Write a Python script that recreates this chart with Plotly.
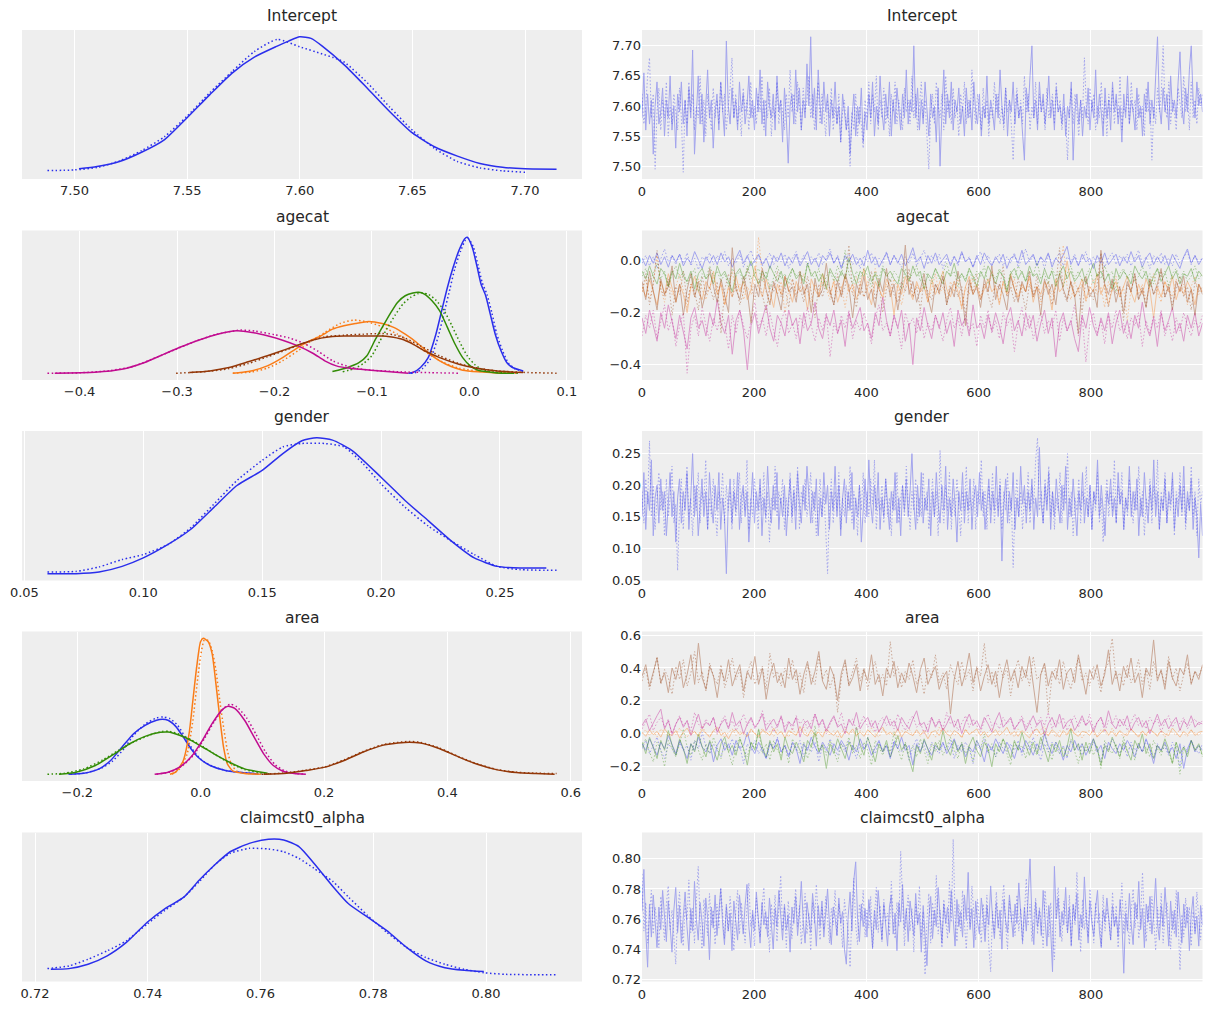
import numpy as np
import plotly.graph_objects as go

# ======================= DATA =======================
TITLES = ["Intercept", "agecat", "gender", "area", "claimcst0_alpha"]

# ---- KDE curves (x, relative density); _S = chain 0 (solid), _D = chain 1 (dotted)
INT_KDE_XS = [7.502, 7.51, 7.52, 7.53, 7.54, 7.55, 7.56, 7.57, 7.58, 7.59, 7.595, 7.60, 7.605, 7.61, 7.62, 7.63, 7.64, 7.65, 7.66, 7.67, 7.68, 7.69, 7.70, 7.714]
INT_KDE_YS = [0.025, 0.042, 0.079, 0.149, 0.241, 0.402, 0.571, 0.732, 0.851, 0.931, 0.968, 1.0, 0.988, 0.931, 0.789, 0.62, 0.447, 0.29, 0.186, 0.119, 0.065, 0.037, 0.025, 0.022]
INT_KDE_XD = [7.488, 7.50, 7.51, 7.52, 7.53, 7.54, 7.55, 7.56, 7.57, 7.58, 7.59, 7.60, 7.61, 7.615, 7.62, 7.63, 7.64, 7.65, 7.66, 7.67, 7.68, 7.69, 7.70]
INT_KDE_YD = [0.012, 0.017, 0.035, 0.084, 0.161, 0.263, 0.414, 0.586, 0.744, 0.893, 0.98, 0.926, 0.873, 0.846, 0.81, 0.66, 0.48, 0.31, 0.174, 0.079, 0.032, 0.01, 0.0]

AGE0_KDE_XS = [-0.0627, -0.058, -0.0502, -0.0423, -0.0344, -0.0285, -0.0226, -0.0167, -0.0108, -0.005, -0.0022, 0.0029, 0.008, 0.0119, 0.0167, 0.0214, 0.0265, 0.0324, 0.0383, 0.0442, 0.0552]
AGE0_KDE_YS = [0.0, 0.005, 0.042, 0.115, 0.287, 0.459, 0.631, 0.779, 0.902, 0.988, 1.0, 0.926, 0.779, 0.656, 0.57, 0.435, 0.287, 0.165, 0.079, 0.042, 0.017]
AGE0_KDE_XD = [-0.06, -0.055, -0.048, -0.04, -0.032, -0.026, -0.02, -0.015, -0.009, -0.004, -0.001, 0.004, 0.009, 0.013, 0.018, 0.023, 0.028, 0.034, 0.04, 0.046, 0.055]
AGE0_KDE_YD = [0.0, 0.005, 0.035, 0.105, 0.27, 0.445, 0.62, 0.77, 0.9, 0.98, 0.99, 0.93, 0.79, 0.67, 0.58, 0.445, 0.29, 0.165, 0.075, 0.035, 0.012]
AGE1_KDE_XS = [-0.2428, -0.227, -0.2074, -0.1917, -0.176, -0.1642, -0.1524, -0.1406, -0.1288, -0.117, -0.1032, -0.0895, -0.0777, -0.0659, -0.0541, -0.0423, -0.0305, -0.0187, -0.0069, 0.0088, 0.0285, 0.0442]
AGE1_KDE_YS = [0.0, 0.012, 0.054, 0.115, 0.189, 0.238, 0.275, 0.324, 0.349, 0.366, 0.381, 0.366, 0.337, 0.287, 0.226, 0.152, 0.091, 0.049, 0.022, 0.01, 0.002, 0.0]
AGE1_KDE_XD = [-0.2428, -0.2231, -0.2074, -0.1917, -0.176, -0.1642, -0.1484, -0.1327, -0.1189, -0.1052, -0.0895, -0.0738, -0.058, -0.0423, -0.0266, -0.0108, 0.0088, 0.0285, 0.0481]
AGE1_KDE_YD = [0.0, 0.01, 0.037, 0.091, 0.165, 0.226, 0.3, 0.366, 0.391, 0.378, 0.342, 0.287, 0.219, 0.145, 0.079, 0.037, 0.015, 0.005, 0.0]
AGE2_KDE_XS = [-0.1406, -0.1249, -0.113, -0.1052, -0.0973, -0.0895, -0.0816, -0.0738, -0.0659, -0.058, -0.0521, -0.0462, -0.0384, -0.0305, -0.0226, -0.0148, -0.0069, 0.0009, 0.0088, 0.0186, 0.0285, 0.0462]
AGE2_KDE_YS = [0.012, 0.042, 0.079, 0.128, 0.238, 0.337, 0.435, 0.521, 0.57, 0.59, 0.595, 0.582, 0.533, 0.459, 0.337, 0.215, 0.115, 0.054, 0.022, 0.01, 0.002, 0.0]
AGE2_KDE_XD = [-0.13, -0.118, -0.108, -0.1, -0.092, -0.084, -0.076, -0.068, -0.06, -0.053, -0.048, -0.042, -0.034, -0.026, -0.018, -0.01, -0.002, 0.006, 0.014, 0.024, 0.034, 0.05]
AGE2_KDE_YD = [0.01, 0.035, 0.075, 0.13, 0.235, 0.335, 0.43, 0.51, 0.56, 0.585, 0.59, 0.58, 0.535, 0.46, 0.35, 0.23, 0.125, 0.06, 0.025, 0.01, 0.003, 0.0]
AGE3_KDE_XS = [-0.4255, -0.3843, -0.3568, -0.3332, -0.3135, -0.2978, -0.2781, -0.2585, -0.2388, -0.2231, -0.2074, -0.1917, -0.176, -0.1602, -0.1484, -0.1366, -0.1209, -0.1013, -0.0816, -0.0627]
AGE3_KDE_YS = [0.0, 0.007, 0.029, 0.079, 0.14, 0.189, 0.243, 0.287, 0.312, 0.30, 0.275, 0.243, 0.201, 0.145, 0.091, 0.054, 0.034, 0.022, 0.01, 0.0]
AGE3_KDE_XD = [-0.433, -0.4, -0.37, -0.345, -0.32, -0.3, -0.28, -0.26, -0.235, -0.22, -0.2, -0.185, -0.17, -0.155, -0.14, -0.12, -0.1, -0.07, -0.04, -0.011]
AGE3_KDE_YD = [0.0, 0.003, 0.018, 0.05, 0.12, 0.18, 0.238, 0.285, 0.317, 0.31, 0.283, 0.26, 0.22, 0.16, 0.09, 0.04, 0.022, 0.01, 0.004, 0.0]
AGE4_KDE_XS = [-0.2872, -0.2664, -0.2467, -0.227, -0.2074, -0.1877, -0.1681, -0.1524, -0.1406, -0.1288, -0.1091, -0.0895, -0.0816, -0.0698, -0.058, -0.0462, -0.0305, -0.0108, 0.0088, 0.0285, 0.0552]
AGE4_KDE_YS = [0.005, 0.017, 0.042, 0.084, 0.128, 0.177, 0.226, 0.258, 0.27, 0.273, 0.273, 0.273, 0.268, 0.251, 0.214, 0.165, 0.115, 0.066, 0.034, 0.017, 0.005]
AGE4_KDE_XD = [-0.301, -0.286, -0.2664, -0.2467, -0.227, -0.2074, -0.1877, -0.1681, -0.1484, -0.1288, -0.1091, -0.0895, -0.0777, -0.0659, -0.0502, -0.0305, -0.0108, 0.0088, 0.0285, 0.06, 0.0894]
AGE4_KDE_YD = [0.0, 0.005, 0.015, 0.034, 0.071, 0.12, 0.172, 0.226, 0.268, 0.28, 0.287, 0.292, 0.283, 0.258, 0.201, 0.128, 0.071, 0.037, 0.017, 0.005, 0.0]

GEN_KDE_XS = [0.0597, 0.0717, 0.0814, 0.0911, 0.10, 0.1104, 0.12, 0.1297, 0.1394, 0.15, 0.1587, 0.1667, 0.1729, 0.1796, 0.1877, 0.20, 0.2102, 0.2199, 0.2296, 0.2392, 0.2489, 0.2585, 0.2695]
GEN_KDE_YS = [0.0, 0.0, 0.012, 0.054, 0.116, 0.215, 0.327, 0.488, 0.649, 0.76, 0.884, 0.978, 1.0, 0.983, 0.908, 0.71, 0.537, 0.389, 0.24, 0.116, 0.054, 0.042, 0.042]
GEN_KDE_XD = [0.0597, 0.0717, 0.0814, 0.0911, 0.10, 0.1104, 0.12, 0.1297, 0.1394, 0.15, 0.1587, 0.1667, 0.1763, 0.1844, 0.1925, 0.20, 0.2102, 0.2199, 0.2296, 0.2392, 0.2489, 0.2585, 0.2738]
GEN_KDE_YD = [0.012, 0.017, 0.05, 0.104, 0.141, 0.215, 0.339, 0.512, 0.686, 0.834, 0.933, 0.958, 0.958, 0.933, 0.809, 0.661, 0.488, 0.35, 0.24, 0.141, 0.054, 0.03, 0.025]

AREA0_KDE_XS = [-0.2143, -0.1894, -0.1646, -0.146, -0.1274, -0.1088, -0.0901, -0.0715, -0.0622, -0.0529, -0.0405, -0.0281, -0.0157, -0.0033, 0.0154, 0.0402, 0.0712, 0.093]
AREA0_KDE_YS = [0.0, 0.007, 0.039, 0.101, 0.2, 0.298, 0.36, 0.397, 0.404, 0.397, 0.352, 0.273, 0.187, 0.121, 0.064, 0.027, 0.01, 0.002]
AREA0_KDE_XD = [-0.2112, -0.1863, -0.1615, -0.1429, -0.1243, -0.1088, -0.0901, -0.0715, -0.0603, -0.0498, -0.0374, -0.025, -0.0126, -0.0002, 0.0185, 0.0433, 0.0774, 0.0991]
AREA0_KDE_YD = [0.0, 0.01, 0.044, 0.096, 0.187, 0.286, 0.368, 0.414, 0.421, 0.409, 0.36, 0.273, 0.18, 0.111, 0.059, 0.025, 0.007, 0.0]
AREA1_KDE_XS = [-0.0498, -0.0405, -0.0281, -0.0188, -0.0126, -0.0064, -0.0002, 0.0042, 0.0123, 0.0185, 0.0247, 0.0309, 0.0371, 0.0433, 0.0526, 0.0712, 0.096]
AREA1_KDE_YS = [0.0, 0.015, 0.101, 0.298, 0.544, 0.791, 0.975, 1.0, 0.975, 0.889, 0.667, 0.42, 0.199, 0.076, 0.022, 0.005, 0.0]
AREA1_KDE_XD = [-0.0467, -0.0343, -0.0219, -0.0126, -0.0064, -0.0002, 0.006, 0.0123, 0.0185, 0.0247, 0.0309, 0.0371, 0.0433, 0.0495, 0.0588, 0.0774, 0.1022]
AREA1_KDE_YD = [0.0, 0.039, 0.15, 0.397, 0.643, 0.865, 0.988, 0.983, 0.914, 0.766, 0.544, 0.347, 0.175, 0.076, 0.022, 0.005, 0.0]
AREA2_KDE_XS = [-0.2298, -0.2019, -0.1708, -0.1398, -0.115, -0.0901, -0.0653, -0.0529, -0.0343, -0.0157, 0.0031, 0.0216, 0.0464, 0.0712, 0.1085]
AREA2_KDE_YS = [0.0, 0.015, 0.064, 0.15, 0.224, 0.278, 0.308, 0.31, 0.286, 0.249, 0.2, 0.15, 0.089, 0.039, 0.007]
AREA2_KDE_XD = [-0.2484, -0.2205, -0.1894, -0.1584, -0.1336, -0.1088, -0.084, -0.0622, -0.0498, -0.0343, -0.0157, 0.0031, 0.0216, 0.0464, 0.0712, 0.1022, 0.1147]
AREA2_KDE_YD = [0.0, 0.007, 0.039, 0.106, 0.175, 0.236, 0.286, 0.315, 0.315, 0.293, 0.254, 0.204, 0.15, 0.084, 0.034, 0.007, 0.002]
AREA3_KDE_XS = [-0.0746, -0.0529, -0.0343, -0.0157, 0.0029, 0.0185, 0.034, 0.0445, 0.0557, 0.0712, 0.0867, 0.1022, 0.1178, 0.1333, 0.1519, 0.1705]
AREA3_KDE_YS = [0.0, 0.015, 0.052, 0.126, 0.249, 0.372, 0.47, 0.5, 0.483, 0.397, 0.273, 0.15, 0.064, 0.022, 0.005, 0.0]
AREA3_KDE_XD = [-0.0715, -0.0498, -0.0312, -0.0126, 0.006, 0.0216, 0.0371, 0.0483, 0.0588, 0.0743, 0.0898, 0.1053, 0.1209, 0.1364, 0.155, 0.1705]
AREA3_KDE_YD = [0.0, 0.017, 0.057, 0.135, 0.261, 0.384, 0.483, 0.515, 0.495, 0.416, 0.293, 0.163, 0.069, 0.025, 0.005, 0.0]
AREA4_KDE_XS = [0.1022, 0.1395, 0.1705, 0.2016, 0.2326, 0.2636, 0.2947, 0.3195, 0.3381, 0.3567, 0.3877, 0.4188, 0.4498, 0.4808, 0.5119, 0.5429, 0.5739]
AREA4_KDE_YS = [0.0, 0.007, 0.027, 0.052, 0.101, 0.163, 0.212, 0.229, 0.236, 0.229, 0.187, 0.126, 0.071, 0.032, 0.012, 0.005, 0.0]
AREA4_KDE_XD = [0.0991, 0.1395, 0.1705, 0.2016, 0.2326, 0.2636, 0.2947, 0.3195, 0.3381, 0.3567, 0.3877, 0.4188, 0.4498, 0.4808, 0.5119, 0.5429, 0.577]
AREA4_KDE_YD = [0.0, 0.01, 0.03, 0.054, 0.106, 0.167, 0.217, 0.234, 0.241, 0.234, 0.192, 0.128, 0.074, 0.034, 0.015, 0.007, 0.005]

CLM_KDE_XS = [0.7228, 0.726, 0.7294, 0.7328, 0.7362, 0.7399, 0.743, 0.7464, 0.7491, 0.7518, 0.7546, 0.758, 0.7614, 0.7641, 0.7668, 0.7695, 0.7729, 0.7756, 0.779, 0.7824, 0.7859, 0.7893, 0.7927, 0.7961, 0.7996]
CLM_KDE_YS = [0.042, 0.047, 0.079, 0.141, 0.24, 0.389, 0.488, 0.574, 0.698, 0.809, 0.908, 0.97, 1.0, 0.995, 0.946, 0.822, 0.649, 0.525, 0.426, 0.327, 0.203, 0.104, 0.054, 0.035, 0.025]
CLM_KDE_XD = [0.7222, 0.726, 0.7294, 0.7328, 0.7362, 0.7399, 0.743, 0.7464, 0.7491, 0.7518, 0.7546, 0.758, 0.7614, 0.7641, 0.7668, 0.7695, 0.7729, 0.7756, 0.779, 0.7824, 0.7859, 0.7893, 0.7927, 0.7961, 0.7996, 0.8035, 0.809, 0.8125]
CLM_KDE_YD = [0.047, 0.067, 0.116, 0.178, 0.252, 0.376, 0.475, 0.574, 0.686, 0.809, 0.896, 0.933, 0.928, 0.908, 0.859, 0.785, 0.686, 0.574, 0.438, 0.314, 0.203, 0.129, 0.079, 0.042, 0.017, 0.005, 0.002, 0.002]

# ---- trace values (draws read coarsely along 0..999); _C0 solid chain, _C1 dotted chain
INT_C0 = [7.58, 7.655, 7.56, 7.62, 7.57, 7.61, 7.52, 7.60, 7.64, 7.57,
          7.59, 7.63, 7.55, 7.61, 7.58, 7.65, 7.56, 7.60, 7.53, 7.62,
          7.59, 7.64, 7.57, 7.61, 7.55, 7.63, 7.58, 7.693, 7.52, 7.60,
          7.65, 7.57, 7.62, 7.54, 7.60, 7.66, 7.58, 7.61, 7.53, 7.59,
          7.62, 7.56, 7.64, 7.59, 7.55, 7.708, 7.60, 7.57, 7.63, 7.58,
          7.61, 7.56, 7.64, 7.59, 7.62, 7.57, 7.60, 7.65, 7.58, 7.61,
          7.56, 7.63, 7.59, 7.66, 7.57, 7.61, 7.55, 7.64, 7.60, 7.58,
          7.62, 7.56, 7.65, 7.59, 7.61, 7.54, 7.63, 7.58, 7.505, 7.60,
          7.62, 7.57, 7.66, 7.59, 7.63, 7.56, 7.61, 7.58, 7.67, 7.60,
          7.715, 7.58, 7.63, 7.56, 7.66, 7.60, 7.57, 7.64, 7.59, 7.62,
          7.55, 7.61, 7.58, 7.64, 7.57, 7.60, 7.54, 7.62, 7.59, 7.56,
          7.60, 7.52, 7.58, 7.62, 7.55, 7.60, 7.57, 7.63, 7.54, 7.59,
          7.56, 7.62, 7.58, 7.64, 7.55, 7.60, 7.57, 7.65, 7.59, 7.56,
          7.62, 7.58, 7.64, 7.55, 7.61, 7.57, 7.63, 7.59, 7.56, 7.62,
          7.58, 7.66, 7.57, 7.61, 7.59, 7.70, 7.58, 7.63, 7.56, 7.61,
          7.57, 7.64, 7.59, 7.55, 7.62, 7.58, 7.60, 7.54, 7.63, 7.50,
          7.59, 7.66, 7.57, 7.62, 7.58, 7.64, 7.56, 7.61, 7.59, 7.63,
          7.57, 7.60, 7.55, 7.63, 7.58, 7.61, 7.56, 7.64, 7.59, 7.57,
          7.62, 7.55, 7.60, 7.58, 7.65, 7.57, 7.61, 7.59, 7.56, 7.62,
          7.58, 7.66, 7.60, 7.57, 7.63, 7.55, 7.61, 7.59, 7.64, 7.57,
          7.62, 7.58, 7.60, 7.56, 7.51, 7.63, 7.59, 7.65, 7.70, 7.58,
          7.61, 7.56, 7.64, 7.59, 7.62, 7.57, 7.60, 7.65, 7.58, 7.61,
          7.56, 7.63, 7.59, 7.60, 7.57, 7.62, 7.55, 7.60, 7.58, 7.64,
          7.51, 7.59, 7.62, 7.57, 7.61, 7.55, 7.60, 7.58, 7.63, 7.56,
          7.61, 7.58, 7.66, 7.57, 7.62, 7.59, 7.55, 7.63, 7.58, 7.61,
          7.56, 7.64, 7.59, 7.62, 7.57, 7.60, 7.54, 7.62, 7.58, 7.65,
          7.57, 7.61, 7.59, 7.56, 7.63, 7.58, 7.60, 7.55, 7.62, 7.59,
          7.64, 7.57, 7.61, 7.58, 7.66, 7.715, 7.60, 7.57, 7.63, 7.59,
          7.62, 7.56, 7.65, 7.59, 7.61, 7.58, 7.64, 7.69, 7.60, 7.57,
          7.63, 7.59, 7.66, 7.70, 7.61, 7.58, 7.64, 7.60, 7.62, 7.59]
INT_C1 = [7.62, 7.57, 7.60, 7.65, 7.68, 7.58, 7.62, 7.495, 7.59, 7.63,
          7.56, 7.61, 7.58, 7.64, 7.55, 7.60, 7.57, 7.62, 7.59, 7.56,
          7.63, 7.58, 7.49, 7.61, 7.57, 7.64, 7.59, 7.62, 7.56, 7.60,
          7.58, 7.65, 7.57, 7.61, 7.55, 7.62, 7.59, 7.56, 7.63, 7.58,
          7.61, 7.57, 7.64, 7.59, 7.62, 7.56, 7.60, 7.63, 7.68, 7.58,
          7.62, 7.57, 7.60, 7.55, 7.63, 7.59, 7.61, 7.56, 7.64, 7.58,
          7.60, 7.57, 7.62, 7.59, 7.65, 7.56, 7.61, 7.58, 7.63, 7.55,
          7.60, 7.58, 7.64, 7.57, 7.61, 7.59, 7.56, 7.62, 7.58, 7.66,
          7.59, 7.62, 7.57, 7.64, 7.60, 7.56, 7.63, 7.59, 7.61, 7.65,
          7.58, 7.62, 7.56, 7.60, 7.64, 7.57, 7.62, 7.59, 7.55, 7.61,
          7.58, 7.63, 7.56, 7.60, 7.57, 7.62, 7.54, 7.59, 7.61, 7.56,
          7.58, 7.50, 7.59, 7.56, 7.62, 7.55, 7.60, 7.57, 7.53, 7.61,
          7.58, 7.64, 7.57, 7.62, 7.59, 7.65, 7.56, 7.61, 7.58, 7.63,
          7.57, 7.60, 7.55, 7.62, 7.59, 7.64, 7.57, 7.61, 7.58, 7.56,
          7.63, 7.59, 7.61, 7.57, 7.65, 7.58, 7.62, 7.56, 7.60, 7.64,
          7.58, 7.61, 7.55, 7.495, 7.59, 7.62, 7.57, 7.64, 7.60, 7.58,
          7.62, 7.56, 7.65, 7.59, 7.61, 7.57, 7.63, 7.58, 7.60, 7.55,
          7.62, 7.59, 7.64, 7.57, 7.61, 7.58, 7.66, 7.60, 7.57, 7.62,
          7.59, 7.56, 7.63, 7.58, 7.61, 7.55, 7.60, 7.58, 7.64, 7.59,
          7.62, 7.57, 7.60, 7.56, 7.63, 7.59, 7.61, 7.57, 7.51, 7.60,
          7.63, 7.58, 7.61, 7.57, 7.65, 7.59, 7.62, 7.56, 7.60, 7.58,
          7.64, 7.57, 7.62, 7.59, 7.61, 7.56, 7.63, 7.58, 7.60, 7.62,
          7.57, 7.64, 7.59, 7.61, 7.56, 7.60, 7.58, 7.51, 7.59, 7.63,
          7.57, 7.62, 7.59, 7.55, 7.61, 7.58, 7.68, 7.60, 7.57, 7.63,
          7.59, 7.62, 7.56, 7.60, 7.58, 7.64, 7.57, 7.61, 7.55, 7.62,
          7.59, 7.63, 7.57, 7.61, 7.58, 7.65, 7.56, 7.60, 7.59, 7.62,
          7.57, 7.64, 7.59, 7.61, 7.56, 7.62, 7.58, 7.60, 7.55, 7.63,
          7.59, 7.61, 7.51, 7.60, 7.57, 7.63, 7.59, 7.62, 7.70, 7.60,
          7.58, 7.64, 7.57, 7.61, 7.59, 7.56, 7.63, 7.60, 7.58, 7.65,
          7.59, 7.62, 7.56, 7.64, 7.58, 7.61, 7.57, 7.63, 7.60, 7.62]

AGE0_C0 = [0.01, -0.02, 0.02, -0.01, 0.03, -0.015, 0.015, -0.025, 0.02, -0.005,
           0.025, -0.02, 0.01, -0.01, 0.035, 0.0, -0.03, 0.015, -0.01, 0.02,
           -0.015, 0.03, -0.005, 0.015, -0.025, 0.01, 0.04, -0.01, 0.02, -0.02,
           0.005, 0.025, -0.015, 0.01, -0.03, 0.02, -0.005, 0.03, -0.02, 0.015,
           -0.01, 0.025, -0.02, 0.005, 0.035, -0.015, 0.01, -0.025, 0.02, 0.0,
           0.03, -0.01, 0.015, -0.03, 0.02, -0.005, 0.025, -0.015, 0.01, -0.02,
           0.04, -0.01, 0.015, -0.025, 0.005, 0.03, -0.015, 0.02, -0.01, 0.025,
           -0.02, 0.01, 0.05, -0.005, 0.015, -0.03, 0.02, -0.01, 0.03, -0.015,
           0.005, 0.025, -0.02, 0.015, -0.01, 0.035, -0.005, 0.01, -0.025, 0.02,
           -0.015, 0.03, 0.0, -0.02, 0.015, -0.01, 0.025, -0.03, 0.01, 0.02,
           -0.01, 0.04, -0.015, 0.005, 0.025, -0.02, 0.015, -0.005, 0.03, -0.025,
           0.01, -0.01, 0.02, 0.055, -0.015, 0.015, -0.02, 0.025, -0.005, 0.01,
           -0.03, 0.02, -0.01, 0.03, -0.015, 0.005, 0.025, -0.02, 0.015, -0.01,
           0.035, -0.005, 0.02, -0.025, 0.01, 0.03, -0.015, 0.015, -0.01, 0.02,
           -0.02, 0.025, 0.0, -0.03, 0.015, 0.045, -0.01, 0.02, -0.015, 0.01]
AGE0_C1 = [-0.01, 0.02, -0.02, 0.015, -0.03, 0.01, 0.045, -0.005, 0.02, -0.015,
           0.025, -0.01, 0.03, -0.02, 0.01, -0.035, 0.015, 0.0, 0.03, -0.015,
           0.02, -0.005, 0.035, -0.02, 0.01, -0.01, 0.025, -0.025, 0.015, 0.04,
           -0.01, 0.02, -0.02, 0.005, 0.03, -0.015, 0.015, -0.005, 0.025, -0.03,
           0.01, 0.035, -0.01, 0.02, -0.02, 0.015, -0.005, 0.03, -0.015, 0.01,
           0.045, -0.01, 0.02, -0.025, 0.005, 0.025, -0.015, 0.015, -0.03, 0.02,
           -0.005, 0.03, -0.02, 0.01, -0.01, 0.035, -0.015, 0.02, 0.0, -0.025,
           0.015, -0.01, 0.03, -0.02, 0.01, 0.04, -0.015, 0.02, -0.005, 0.025,
           -0.03, 0.01, -0.01, 0.02, -0.02, 0.03, -0.005, 0.015, -0.025, 0.01,
           0.035, -0.01, 0.02, -0.015, 0.005, 0.025, -0.02, 0.015, -0.01, 0.03,
           -0.025, 0.01, 0.045, -0.005, 0.02, -0.015, 0.015, -0.03, 0.025, -0.01,
           0.01, 0.03, -0.02, 0.015, -0.005, 0.025, -0.015, 0.005, 0.035, -0.02,
           0.015, -0.01, 0.02, -0.025, 0.01, 0.03, -0.015, 0.02, -0.005, 0.025,
           -0.02, 0.01, 0.04, -0.01, 0.015, -0.03, 0.02, -0.005, 0.03, -0.015,
           0.01, -0.02, 0.025, -0.01, 0.015, 0.035, -0.015, 0.02, -0.005, 0.01]
AGE1_C0 = [-0.1, -0.14, -0.07, -0.12, -0.17, -0.08, -0.13, -0.05, -0.11, -0.16,
           -0.09, -0.13, -0.2, -0.1, -0.06, -0.12, -0.15, -0.08, -0.11, -0.04,
           -0.13, -0.09, -0.17, -0.1, -0.14, -0.06, -0.12, -0.08, -0.15, -0.11,
           -0.02, -0.1, -0.14, -0.07, -0.12, -0.18, -0.09, -0.13, -0.06, -0.11,
           -0.16, -0.08, -0.12, -0.1, -0.19, -0.07, -0.11, -0.14, -0.05, -0.1,
           -0.13, -0.08, -0.16, -0.11, -0.06, -0.12, -0.09, -0.15, -0.1, -0.03,
           -0.12, -0.17, -0.08, -0.11, -0.14, -0.07, -0.1, -0.21, -0.09, -0.13,
           -0.06, -0.11, -0.15, -0.08, -0.12, -0.1, -0.16, -0.07, -0.13, -0.09,
           -0.04, -0.11, -0.14, -0.08, -0.12, -0.18, -0.1, -0.06, -0.13, -0.09,
           -0.15, -0.11, -0.07, -0.12, -0.1, -0.17, -0.08, -0.13, -0.05, -0.11,
           -0.14, -0.09, -0.12, -0.06, -0.16, -0.1, -0.13, -0.08, -0.11, -0.19,
           -0.07, -0.12, -0.1, 0.0, -0.09, -0.14, -0.11, -0.07, -0.15, -0.1,
           -0.12, -0.05, -0.13, -0.09, -0.17, -0.11, -0.08, -0.14, -0.1, -0.06,
           -0.12, -0.16, -0.09, -0.13, -0.07, -0.11, -0.22, -0.1, -0.14, -0.08,
           -0.12, -0.06, -0.15, -0.1, -0.13, -0.08, -0.11, -0.17, -0.09, -0.12]
AGE1_C1 = [-0.12, -0.07, -0.15, -0.09, 0.02, -0.11, -0.16, -0.08, -0.13, -0.1,
           -0.05, -0.12, -0.18, -0.09, -0.14, -0.07, -0.11, -0.15, -0.1, -0.06,
           -0.13, -0.08, -0.17, -0.11, -0.04, -0.12, -0.09, -0.15, -0.1, -0.13,
           -0.07, 0.09, -0.06, -0.12, -0.16, -0.09, -0.13, -0.08, -0.2, -0.11,
           -0.07, -0.14, -0.1, -0.05, -0.12, -0.16, -0.09, -0.13, -0.08, -0.11,
           -0.15, -0.07, -0.12, -0.1, -0.18, -0.09, -0.13, -0.06, -0.11, -0.14,
           -0.08, -0.12, -0.03, -0.1, -0.15, -0.09, -0.13, -0.07, -0.11, -0.17,
           -0.1, -0.06, -0.14, -0.09, -0.12, -0.08, -0.16, -0.11, -0.05, -0.13,
           -0.1, -0.15, -0.08, -0.12, -0.07, -0.19, -0.1, -0.13, -0.06, -0.11,
           -0.14, -0.09, -0.12, -0.04, -0.1, -0.16, -0.08, -0.13, -0.11, -0.07,
           -0.15, -0.1, -0.12, -0.06, -0.14, -0.09, -0.17, -0.11, -0.08, -0.13,
           -0.1, -0.05, 0.06, -0.1, -0.15, -0.08, -0.12, -0.09, -0.16, -0.11,
           -0.07, -0.13, -0.1, -0.18, -0.08, -0.12, -0.06, -0.14, -0.1, -0.23,
           -0.11, -0.07, -0.13, -0.09, -0.15, -0.1, -0.05, -0.12, -0.16, -0.08,
           -0.11, -0.14, -0.07, -0.12, -0.09, -0.17, -0.1, -0.06, -0.13, -0.11]
AGE2_C0 = [-0.04, -0.07, -0.02, -0.06, -0.09, -0.03, -0.05, -0.1, -0.04, -0.07,
           -0.01, -0.06, -0.08, -0.04, -0.11, -0.05, -0.03, -0.07, -0.05, -0.09,
           -0.02, -0.06, -0.04, -0.08, -0.12, -0.05, -0.03, -0.07, -0.04, 0.0,
           -0.06, -0.09, -0.04, -0.07, -0.02, -0.05, -0.08, -0.04, -0.1, -0.06,
           -0.03, -0.07, -0.05, -0.09, -0.01, -0.06, -0.04, -0.08, -0.05, -0.11,
           -0.03, -0.06, -0.08, -0.04, -0.07, 0.01, -0.05, -0.09, -0.04, -0.06,
           -0.02, -0.08, -0.05, -0.1, -0.03, -0.06, -0.04, -0.07, -0.09, -0.03,
           -0.05, -0.08, -0.02, -0.06, -0.04, -0.11, -0.05, -0.07, -0.03, -0.06,
           -0.09, -0.04, -0.06, -0.01, -0.07, -0.05, -0.08, -0.03, -0.06, -0.1,
           -0.04, -0.07, -0.02, -0.05, -0.09, -0.04, -0.06, -0.12, -0.05, -0.03,
           -0.07, -0.04, -0.08, -0.02, -0.06, -0.05, -0.09, -0.03, -0.07, -0.04,
           -0.1, -0.05, -0.02, -0.07, -0.04, -0.08, -0.06, -0.03, -0.09, -0.05,
           -0.01, -0.06, -0.04, -0.08, -0.05, -0.11, -0.03, -0.07, -0.04, -0.06,
           -0.09, -0.02, -0.05, -0.07, -0.04, -0.1, -0.06, -0.03, -0.08, -0.05,
           -0.02, -0.07, -0.04, -0.09, -0.05, -0.06, -0.03, -0.08, -0.04, -0.06]
AGE2_C1 = [-0.06, -0.03, -0.08, -0.05, -0.01, -0.07, -0.04, -0.1, -0.05, -0.02,
           -0.07, -0.04, -0.09, -0.06, -0.03, -0.12, -0.05, -0.07, -0.02, -0.06,
           -0.04, -0.08, -0.05, -0.1, -0.03, -0.06, -0.04, -0.09, -0.02, -0.07,
           -0.05, -0.03, -0.08, -0.04, -0.11, -0.06, -0.02, -0.07, -0.05, -0.09,
           -0.03, -0.06, -0.04, -0.08, -0.01, -0.05, -0.07, -0.03, -0.1, -0.06,
           -0.04, -0.08, -0.02, -0.06, 0.04, -0.05, -0.09, -0.04, -0.07, -0.03,
           -0.06, -0.1, -0.04, -0.07, -0.02, -0.05, -0.08, -0.04, -0.06, -0.11,
           -0.03, -0.07, -0.05, -0.02, -0.08, -0.04, -0.06, -0.09, -0.03, -0.07,
           -0.05, -0.01, -0.06, -0.04, -0.1, -0.05, -0.07, -0.03, -0.08, -0.04,
           -0.06, -0.02, -0.09, -0.05, -0.07, -0.03, -0.06, -0.11, -0.04, -0.07,
           -0.02, -0.05, -0.08, -0.04, -0.06, 0.0, -0.07, -0.05, -0.09, -0.03,
           -0.06, -0.04, -0.1, -0.05, -0.02, -0.07, -0.04, -0.08, -0.06, -0.03,
           -0.09, -0.05, -0.07, -0.02, -0.06, -0.04, -0.12, -0.05, -0.03, -0.07,
           -0.04, -0.08, -0.06, -0.02, -0.07, -0.05, -0.09, -0.03, -0.06, -0.04,
           -0.1, -0.05, -0.03, -0.07, -0.04, -0.08, -0.06, -0.02, -0.07, -0.05]
AGE3_C0 = [-0.22, -0.28, -0.19, -0.25, -0.31, -0.2, -0.26, -0.17, -0.24, -0.3,
           -0.21, -0.27, -0.34, -0.22, -0.18, -0.26, -0.23, -0.29, -0.2, -0.25,
           -0.15, -0.24, -0.28, -0.21, -0.36, -0.23, -0.19, -0.27, -0.42, -0.25,
           -0.2, -0.28, -0.23, -0.17, -0.26, -0.31, -0.21, -0.24, -0.29, -0.19,
           -0.25, -0.22, -0.32, -0.2, -0.27, -0.24, -0.16, -0.26, -0.3, -0.21,
           -0.25, -0.19, -0.28, -0.23, -0.33, -0.2, -0.26, -0.22, -0.18, -0.27,
           -0.24, -0.3, -0.2, -0.25, -0.14, -0.23, -0.29, -0.21, -0.26, -0.19,
           -0.31, -0.24, -0.4, -0.22, -0.27, -0.18, -0.25, -0.3, -0.21, -0.26,
           -0.2, -0.28, -0.23, -0.33, -0.19, -0.25, -0.22, -0.29, -0.17, -0.26,
           -0.24, -0.3, -0.21, -0.27, -0.2, -0.25, -0.32, -0.22, -0.18, -0.27,
           -0.23, -0.29, -0.2, -0.26, -0.21, -0.31, -0.24, -0.19, -0.28, -0.22,
           -0.37, -0.24, -0.2, -0.27, -0.23, -0.3, -0.35, -0.21, -0.26, -0.18,
           -0.25, -0.29, -0.22, -0.27, -0.2, -0.32, -0.24, -0.19, -0.28, -0.23,
           -0.3, -0.21, -0.26, -0.16, -0.25, -0.29, -0.22, -0.33, -0.2, -0.27,
           -0.23, -0.18, -0.28, -0.24, -0.31, -0.21, -0.26, -0.2, -0.29, -0.24]
AGE3_C1 = [-0.29, -0.21, -0.26, -0.19, -0.3, -0.24, -0.17, -0.27, -0.22, -0.33,
           -0.25, -0.2, -0.433, -0.26, -0.21, -0.29, -0.18, -0.25, -0.31, -0.22,
           -0.27, -0.2, -0.24, -0.34, -0.21, -0.28, -0.19, -0.25, -0.3, -0.23,
           -0.16, -0.26, -0.22, -0.29, -0.2, -0.27, -0.33, -0.23, -0.19, -0.28,
           -0.24, -0.3, -0.21, -0.26, -0.18, -0.25, -0.31, -0.22, -0.27, -0.2,
           -0.37, -0.24, -0.28, -0.21, -0.26, -0.19, -0.3, -0.23, -0.27, -0.2,
           -0.25, -0.32, -0.22, -0.17, -0.27, -0.24, -0.29, -0.21, -0.26, -0.34,
           -0.2, -0.25, -0.22, -0.28, -0.19, -0.3, -0.24, -0.27, -0.21, -0.25,
           -0.31, -0.23, -0.18, -0.26, -0.22, -0.29, -0.2, -0.27, -0.24, -0.33,
           -0.21, -0.26, -0.19, -0.28, -0.23, -0.3, -0.2, -0.25, -0.22, -0.35,
           -0.24, -0.18, -0.27, -0.21, -0.3, -0.25, -0.2, -0.28, -0.23, -0.26,
           -0.19, -0.31, -0.22, -0.27, -0.24, -0.17, -0.29, -0.21, -0.39, -0.25,
           -0.2, -0.28, -0.23, -0.32, -0.21, -0.26, -0.19, -0.27, -0.24, -0.3,
           -0.22, -0.25, -0.2, -0.33, -0.23, -0.28, -0.21, -0.26, -0.19, -0.29,
           -0.24, -0.31, -0.22, -0.27, -0.2, -0.25, -0.29, -0.23, -0.26, -0.21]
AGE4_C0 = [-0.08, -0.15, -0.04, -0.12, -0.19, -0.07, -0.13, -0.1, -0.02, -0.16,
           -0.09, -0.21, -0.11, -0.05, -0.14, -0.08, -0.18, -0.12, -0.03, -0.1,
           -0.16, -0.07, -0.13, -0.2, 0.05, -0.11, -0.15, -0.06, -0.12, -0.24,
           -0.09, -0.14, -0.03, -0.11, -0.17, -0.08, -0.13, -0.19, -0.06, -0.12,
           -0.1, -0.16, -0.04, -0.13, -0.09, -0.2, -0.07, -0.14, -0.11, -0.01,
           -0.12, -0.17, -0.08, -0.14, -0.05, -0.1, -0.22, -0.09, -0.13, -0.06,
           -0.15, -0.11, -0.18, -0.07, -0.12, -0.03, -0.14, -0.09, -0.19, -0.1,
           0.06, -0.13, -0.08, -0.16, -0.11, -0.05, -0.14, -0.2, -0.09, -0.12,
           -0.06, -0.17, -0.1, -0.14, -0.04, -0.12, -0.25, -0.08, -0.13, -0.1,
           -0.18, -0.07, -0.12, -0.02, -0.15, -0.09, -0.13, -0.19, -0.06, -0.11,
           -0.16, -0.08, -0.12, -0.04, -0.14, -0.1, -0.21, -0.07, -0.13, -0.09,
           -0.17, -0.05, -0.11, -0.15, -0.08, -0.13, -0.28, -0.1, -0.06, -0.14,
           -0.11, -0.18, 0.04, -0.09, -0.13, -0.07, -0.16, -0.1, -0.2, -0.08,
           -0.12, -0.05, -0.15, -0.11, -0.18, -0.07, -0.13, -0.09, -0.03, -0.14,
           -0.1, -0.19, -0.08, -0.12, -0.06, -0.16, -0.11, -0.21, -0.09, -0.13]
AGE4_C1 = [-0.12, -0.05, -0.17, -0.09, 0.04, -0.11, -0.14, -0.07, -0.21, -0.1,
           -0.13, -0.04, -0.16, -0.09, -0.12, -0.19, -0.06, -0.13, -0.1, -0.15,
           -0.08, -0.28, -0.11, -0.05, -0.14, -0.09, -0.17, -0.12, -0.03, -0.1,
           -0.15, -0.07, -0.13, -0.2, -0.09, -0.12, -0.04, -0.14, -0.1, -0.18,
           -0.07, -0.13, -0.1, -0.16, -0.06, -0.12, -0.22, -0.09, -0.14, -0.08,
           -0.11, -0.17, -0.05, -0.13, -0.1, 0.06, -0.12, -0.18, -0.08, -0.14,
           -0.1, -0.04, -0.15, -0.09, -0.2, -0.11, -0.07, -0.13, -0.16, -0.08,
           -0.12, -0.03, -0.14, -0.1, -0.19, -0.07, -0.12, -0.15, -0.09, -0.13,
           -0.06, -0.17, -0.11, -0.08, -0.14, -0.1, -0.21, -0.07, -0.12, -0.05,
           -0.15, -0.09, -0.13, -0.18, -0.08, -0.11, -0.02, -0.14, -0.1, -0.16,
           -0.07, -0.12, -0.19, -0.09, -0.13, -0.06, -0.15, -0.11, -0.08, -0.17,
           -0.1, 0.05, -0.12, -0.16, -0.08, -0.14, -0.1, -0.2, -0.07, -0.12,
           -0.15, -0.09, 0.03, -0.11, -0.18, -0.08, -0.13, -0.1, -0.23, -0.09,
           -0.12, -0.05, -0.15, -0.1, -0.18, -0.07, -0.13, -0.11, -0.04, -0.14,
           -0.09, -0.17, -0.11, -0.06, -0.14, -0.1, -0.19, -0.08, -0.12, -0.1]

GEN_C0 = [0.15, 0.22, 0.13, 0.19, 0.16, 0.24, 0.12, 0.18, 0.20, 0.14,
          0.21, 0.16, 0.19, 0.12, 0.17, 0.22, 0.15, 0.19, 0.11, 0.18,
          0.21, 0.14, 0.19, 0.16, 0.22, 0.13, 0.18, 0.25, 0.15, 0.20,
          0.12, 0.17, 0.21, 0.15, 0.19, 0.13, 0.22, 0.17, 0.14, 0.20,
          0.16, 0.22, 0.13, 0.18, 0.15, 0.06, 0.17, 0.21, 0.14, 0.19,
          0.16, 0.22, 0.13, 0.18, 0.20, 0.15, 0.19, 0.11, 0.17, 0.22,
          0.14, 0.19, 0.16, 0.21, 0.12, 0.18, 0.15, 0.23, 0.17, 0.14,
          0.20, 0.16, 0.22, 0.13, 0.18, 0.15, 0.20, 0.12, 0.17, 0.21,
          0.15, 0.19, 0.13, 0.22, 0.17, 0.14, 0.20, 0.16, 0.23, 0.18,
          0.14, 0.19, 0.16, 0.21, 0.12, 0.18, 0.15, 0.22, 0.17, 0.20,
          0.13, 0.19, 0.16, 0.23, 0.15, 0.20, 0.12, 0.18, 0.21, 0.14,
          0.19, 0.16, 0.22, 0.13, 0.18, 0.15, 0.20, 0.11, 0.17, 0.21,
          0.15, 0.24, 0.17, 0.14, 0.20, 0.16, 0.22, 0.13, 0.18, 0.15,
          0.21, 0.17, 0.13, 0.19, 0.16, 0.22, 0.14, 0.18, 0.12, 0.20,
          0.16, 0.21, 0.15, 0.19, 0.25, 0.17, 0.13, 0.20, 0.15, 0.22,
          0.14, 0.18, 0.16, 0.21, 0.12, 0.19, 0.15, 0.22, 0.17, 0.14,
          0.20, 0.16, 0.23, 0.13, 0.18, 0.15, 0.21, 0.17, 0.11, 0.19,
          0.16, 0.22, 0.14, 0.19, 0.16, 0.21, 0.13, 0.18, 0.20, 0.15,
          0.22, 0.16, 0.19, 0.13, 0.17, 0.21, 0.14, 0.19, 0.16, 0.23,
          0.15, 0.20, 0.08, 0.17, 0.21, 0.14, 0.19, 0.16, 0.22, 0.13,
          0.18, 0.15, 0.23, 0.17, 0.20, 0.14, 0.19, 0.16, 0.21, 0.13,
          0.18, 0.15, 0.26, 0.17, 0.14, 0.20, 0.16, 0.22, 0.13, 0.19,
          0.15, 0.21, 0.17, 0.14, 0.20, 0.16, 0.23, 0.13, 0.18, 0.15,
          0.21, 0.17, 0.12, 0.19, 0.16, 0.22, 0.14, 0.18, 0.15, 0.20,
          0.13, 0.19, 0.17, 0.24, 0.15, 0.20, 0.16, 0.12, 0.19, 0.17,
          0.21, 0.15, 0.18, 0.14, 0.22, 0.17, 0.19, 0.13, 0.18, 0.16,
          0.23, 0.15, 0.19, 0.16, 0.21, 0.12, 0.18, 0.15, 0.22, 0.17,
          0.14, 0.20, 0.16, 0.24, 0.15, 0.19, 0.13, 0.18, 0.16, 0.21,
          0.14, 0.19, 0.17, 0.22, 0.13, 0.18, 0.15, 0.20, 0.16, 0.23,
          0.14, 0.19, 0.16, 0.21, 0.13, 0.18, 0.15, 0.085, 0.17, 0.12]
GEN_C1 = [0.19, 0.14, 0.21, 0.17, 0.27, 0.15, 0.20, 0.13, 0.18, 0.22,
          0.16, 0.19, 0.12, 0.21, 0.15, 0.18, 0.23, 0.14, 0.17, 0.065,
          0.16, 0.21, 0.13, 0.19, 0.23, 0.15, 0.18, 0.12, 0.20, 0.16,
          0.22, 0.14, 0.19, 0.17, 0.24, 0.13, 0.18, 0.15, 0.21, 0.16,
          0.12, 0.19, 0.17, 0.22, 0.14, 0.20, 0.16, 0.19, 0.13, 0.21,
          0.15, 0.18, 0.22, 0.14, 0.19, 0.16, 0.24, 0.13, 0.18, 0.15,
          0.21, 0.17, 0.13, 0.20, 0.16, 0.22, 0.14, 0.19, 0.11, 0.18,
          0.16, 0.23, 0.15, 0.19, 0.17, 0.21, 0.13, 0.18, 0.15, 0.22,
          0.14, 0.20, 0.16, 0.23, 0.13, 0.19, 0.17, 0.21, 0.15, 0.18,
          0.22, 0.14, 0.19, 0.12, 0.17, 0.21, 0.15, 0.19, 0.13, 0.06,
          0.17, 0.21, 0.14, 0.19, 0.16, 0.22, 0.13, 0.18, 0.15, 0.20,
          0.16, 0.23, 0.14, 0.19, 0.17, 0.12, 0.20, 0.16, 0.22, 0.14,
          0.19, 0.15, 0.21, 0.17, 0.24, 0.13, 0.18, 0.16, 0.20, 0.14,
          0.21, 0.15, 0.18, 0.12, 0.19, 0.16, 0.22, 0.14, 0.18, 0.20,
          0.15, 0.23, 0.17, 0.13, 0.19, 0.16, 0.21, 0.14, 0.18, 0.15,
          0.22, 0.16, 0.19, 0.13, 0.17, 0.21, 0.15, 0.19, 0.12, 0.255,
          0.17, 0.14, 0.20, 0.16, 0.22, 0.13, 0.18, 0.15, 0.21, 0.17,
          0.12, 0.19, 0.16, 0.23, 0.14, 0.18, 0.16, 0.21, 0.13, 0.19,
          0.17, 0.24, 0.15, 0.19, 0.13, 0.20, 0.16, 0.22, 0.14, 0.18,
          0.16, 0.21, 0.13, 0.19, 0.16, 0.22, 0.14, 0.18, 0.07, 0.17,
          0.21, 0.15, 0.19, 0.13, 0.18, 0.16, 0.22, 0.14, 0.20, 0.17,
          0.24, 0.275, 0.16, 0.19, 0.14, 0.21, 0.17, 0.23, 0.15, 0.19,
          0.13, 0.18, 0.16, 0.22, 0.14, 0.20, 0.17, 0.25, 0.15, 0.19,
          0.12, 0.18, 0.16, 0.21, 0.14, 0.19, 0.17, 0.23, 0.15, 0.20,
          0.13, 0.19, 0.16, 0.22, 0.14, 0.18, 0.11, 0.17, 0.21, 0.15,
          0.19, 0.16, 0.24, 0.14, 0.20, 0.17, 0.22, 0.13, 0.18, 0.15,
          0.21, 0.17, 0.14, 0.19, 0.16, 0.23, 0.15, 0.19, 0.12, 0.18,
          0.16, 0.21, 0.14, 0.20, 0.17, 0.24, 0.13, 0.19, 0.16, 0.22,
          0.14, 0.18, 0.16, 0.21, 0.12, 0.19, 0.17, 0.22, 0.15, 0.20,
          0.13, 0.18, 0.16, 0.23, 0.15, 0.19, 0.12, 0.21, 0.17, 0.19]

AREA0_C0 = [-0.06, -0.1, -0.03, -0.08, -0.13, -0.05, -0.09, -0.01, -0.07, -0.12,
            -0.04, -0.09, -0.15, -0.06, -0.1, -0.02, -0.08, -0.11, -0.05, -0.17,
            -0.07, -0.03, -0.1, -0.06, -0.13, -0.04, -0.09, -0.07, 0.01, -0.08,
            -0.12, -0.05, -0.1, -0.15, -0.06, -0.09, -0.03, -0.11, -0.07, -0.14,
            -0.05, -0.09, -0.18, -0.06, -0.1, -0.02, -0.08, -0.12, -0.05, -0.09,
            -0.13, -0.06, -0.1, -0.04, -0.08, -0.16, -0.07, -0.11, -0.03, -0.09,
            -0.06, -0.13, -0.08, -0.04, -0.11, -0.07, -0.15, -0.05, -0.09, -0.02,
            -0.1, -0.07, -0.19, -0.06, -0.11, -0.04, -0.09, -0.13, -0.07, -0.1,
            -0.05, -0.12, -0.08, -0.03, -0.1, -0.06, -0.14, -0.08, -0.11, -0.04,
            -0.09, -0.17, -0.06, -0.1, -0.03, -0.08, -0.12, -0.05, -0.09, -0.15,
            -0.07, -0.11, -0.04, -0.08, -0.13, -0.06, -0.1, 0.0, -0.07, -0.12,
            -0.05, -0.09, -0.16, -0.07, -0.11, -0.04, -0.1, -0.06, -0.13, -0.08,
            -0.03, -0.11, -0.07, -0.15, -0.05, -0.09, -0.12, -0.06, -0.1, -0.04,
            -0.08, -0.14, -0.06, -0.11, -0.03, -0.09, -0.18, -0.07, -0.1, -0.05,
            -0.12, -0.08, -0.15, -0.06, -0.21, -0.09, -0.04, -0.11, -0.07, -0.1]
AREA0_C1 = [-0.09, -0.04, -0.12, -0.07, -0.02, -0.1, -0.15, -0.06, -0.09, -0.13,
            -0.05, -0.1, -0.07, -0.16, -0.04, -0.09, 0.01, -0.08, -0.12, -0.06,
            -0.1, -0.14, -0.05, -0.09, -0.03, -0.11, -0.07, -0.18, -0.06, -0.1,
            -0.04, -0.12, -0.08, -0.15, -0.05, -0.09, -0.02, -0.11, -0.07, -0.13,
            -0.06, -0.1, -0.04, -0.14, -0.08, -0.11, -0.05, -0.17, -0.07, -0.1,
            -0.03, -0.09, -0.13, -0.06, -0.11, -0.04, -0.08, -0.15, -0.06, -0.1,
            -0.02, -0.09, -0.12, -0.05, -0.1, -0.07, -0.14, -0.04, -0.09, -0.11,
            -0.06, -0.16, -0.08, -0.03, -0.1, -0.07, -0.13, -0.05, -0.09, -0.12,
            -0.06, -0.1, -0.04, -0.15, -0.07, -0.11, -0.05, -0.09, -0.18, -0.06,
            -0.1, -0.03, -0.12, -0.08, -0.14, -0.05, -0.09, -0.11, -0.06, -0.1,
            -0.04, -0.13, -0.07, -0.1, -0.02, -0.09, -0.16, -0.06, -0.11, -0.05,
            -0.08, -0.12, -0.07, -0.15, -0.04, -0.1, -0.06, -0.13, -0.08, -0.11,
            -0.05, -0.09, -0.17, -0.06, -0.1, -0.03, -0.08, -0.12, -0.07, -0.14,
            -0.05, -0.1, -0.07, -0.11, -0.04, -0.09, -0.15, -0.06, -0.1, -0.08,
            -0.13, -0.05, -0.09, -0.2, -0.07, -0.11, -0.04, -0.09, -0.12, -0.06]
AREA1_C0 = [0.01, -0.015, 0.025, -0.005, 0.015, -0.02, 0.03, 0.0, -0.01, 0.02,
            -0.025, 0.01, 0.035, -0.005, 0.015, -0.015, 0.025, 0.005, -0.02, 0.02,
            0.04, -0.01, 0.01, -0.03, 0.015, 0.025, -0.005, 0.01, -0.015, 0.03,
            0.0, -0.02, 0.02, 0.01, -0.01, 0.035, -0.005, 0.015, -0.025, 0.02,
            0.005, -0.01, 0.045, 0.0, -0.015, 0.025, -0.005, 0.01, -0.02, 0.03,
            0.005, -0.01, 0.02, -0.025, 0.015, 0.0, 0.03, -0.01, 0.01, -0.015,
            0.025, 0.005, -0.02, 0.02, 0.04, -0.005, 0.01, -0.01, 0.03, -0.02,
            0.015, 0.0, -0.01, 0.025, -0.005, 0.015, -0.03, 0.01, 0.02, -0.01,
            0.035, 0.0, -0.015, 0.02, 0.005, -0.02, 0.025, -0.005, 0.01, 0.03,
            -0.01, 0.015, -0.02, 0.005, 0.025, -0.01, 0.01, 0.04, -0.005, 0.015,
            -0.015, 0.02, 0.0, -0.025, 0.015, 0.03, -0.005, 0.01, -0.01, 0.025,
            0.005, -0.02, 0.02, -0.005, 0.035, 0.0, -0.015, 0.015, 0.01, -0.01,
            0.025, -0.02, 0.005, 0.03, -0.005, 0.015, -0.015, 0.02, 0.0, -0.01,
            0.03, 0.005, -0.02, 0.015, -0.005, 0.025, 0.01, -0.015, 0.02, 0.0,
            -0.01, 0.035, 0.005, -0.02, 0.015, -0.005, 0.025, -0.01, 0.01, 0.015]
AREA1_C1 = [0.0, 0.025, -0.01, 0.015, -0.02, 0.03, 0.005, -0.015, 0.02, -0.005,
            0.035, 0.0, -0.02, 0.015, 0.01, -0.01, 0.045, 0.005, -0.015, 0.02,
            -0.005, 0.025, -0.025, 0.01, 0.03, -0.01, 0.015, 0.0, -0.02, 0.02,
            0.005, -0.01, 0.035, -0.005, 0.015, -0.015, 0.025, 0.0, 0.01, -0.02,
            0.03, -0.005, 0.015, 0.04, -0.01, 0.005, -0.02, 0.025, 0.0, 0.015,
            -0.01, 0.02, -0.025, 0.01, 0.03, -0.005, 0.015, -0.015, 0.02, 0.005,
            -0.01, 0.035, 0.0, -0.02, 0.025, 0.01, -0.005, 0.015, -0.03, 0.02,
            0.005, 0.03, -0.01, 0.015, -0.015, 0.025, 0.0, 0.01, -0.02, 0.04,
            -0.005, 0.015, 0.02, -0.01, 0.005, -0.025, 0.03, 0.0, 0.015, -0.01,
            0.025, -0.005, 0.01, 0.035, -0.015, 0.02, 0.005, -0.01, 0.015, -0.02,
            0.03, 0.0, 0.02, -0.005, 0.01, -0.015, 0.025, 0.045, -0.01, 0.015,
            -0.02, 0.02, 0.005, -0.01, 0.03, -0.005, 0.015, -0.025, 0.01, 0.02,
            0.0, -0.015, 0.025, 0.005, -0.01, 0.035, -0.005, 0.015, -0.02, 0.01,
            0.03, 0.0, -0.01, 0.02, -0.015, 0.025, 0.005, -0.005, 0.015, -0.02,
            0.02, 0.01, -0.01, 0.03, 0.0, -0.015, 0.02, 0.005, -0.01, 0.015]
AREA2_C0 = [-0.05, -0.12, -0.02, -0.09, -0.15, -0.04, -0.1, 0.02, -0.07, -0.13,
            -0.03, -0.09, -0.18, -0.06, -0.11, 0.0, -0.08, -0.14, -0.04, -0.1,
            -0.16, -0.06, -0.02, -0.11, -0.07, -0.13, -0.03, -0.09, -0.19, -0.05,
            -0.1, 0.03, -0.08, -0.14, -0.04, -0.11, -0.06, -0.16, -0.02, -0.09,
            -0.12, -0.05, -0.1, -0.17, -0.04, -0.08, 0.01, -0.11, -0.07, -0.21,
            -0.06, -0.12, -0.03, -0.09, -0.15, -0.05, -0.1, 0.04, -0.07, -0.13,
            -0.02, -0.09, -0.17, -0.06, -0.11, -0.04, -0.14, -0.08, -0.01, -0.1,
            -0.06, -0.15, -0.23, -0.07, -0.12, -0.03, -0.09, -0.16, -0.05, -0.1,
            0.02, -0.08, -0.13, -0.04, -0.11, -0.06, -0.18, -0.07, -0.02, -0.1,
            -0.14, -0.05, -0.09, -0.2, -0.06, -0.11, -0.03, -0.08, -0.15, -0.04,
            -0.1, 0.01, -0.07, -0.13, -0.05, -0.12, -0.02, -0.09, -0.17, -0.06,
            -0.11, -0.04, -0.14, -0.08, 0.03, -0.1, -0.06, -0.16, -0.05, -0.12,
            -0.03, -0.09, -0.19, -0.07, -0.11, -0.02, -0.08, -0.14, -0.05, -0.1,
            -0.16, -0.04, -0.09, 0.0, -0.12, -0.06, -0.15, -0.07, -0.11, -0.03,
            -0.09, -0.18, -0.05, -0.12, -0.08, -0.14, -0.04, -0.1, -0.06, -0.13]
AREA2_C1 = [-0.08, -0.03, -0.11, -0.17, -0.05, -0.1, -0.2, -0.04, -0.09, -0.14,
            -0.06, 0.03, -0.08, -0.13, -0.04, -0.1, -0.16, -0.06, -0.12, -0.02,
            -0.09, -0.15, -0.05, -0.11, -0.19, -0.07, -0.02, -0.1, -0.14, -0.05,
            -0.09, 0.02, -0.12, -0.06, -0.16, -0.04, -0.1, -0.13, -0.07, -0.18,
            -0.03, -0.09, -0.12, -0.05, -0.15, -0.08, 0.05, -0.1, -0.06, -0.13,
            -0.04, -0.11, -0.17, -0.06, -0.09, -0.02, -0.12, -0.07, -0.15, -0.05,
            -0.1, -0.19, -0.04, -0.08, -0.13, -0.06, -0.11, 0.01, -0.09, -0.16,
            -0.05, -0.12, -0.07, -0.14, -0.03, -0.1, -0.18, -0.06, -0.11, -0.04,
            -0.13, -0.08, -0.02, -0.1, -0.15, -0.05, -0.12, -0.07, -0.17, -0.04,
            -0.09, 0.0, -0.11, -0.06, -0.14, -0.08, -0.03, -0.12, -0.19, -0.05,
            -0.1, -0.07, -0.15, -0.04, -0.09, -0.13, -0.06, 0.02, -0.1, -0.16,
            -0.05, -0.12, -0.08, -0.14, -0.03, -0.1, -0.18, -0.06, -0.11, -0.05,
            -0.13, -0.07, -0.21, -0.04, -0.09, -0.12, -0.06, -0.15, -0.02, -0.1,
            -0.07, -0.16, -0.05, -0.11, -0.08, -0.14, -0.04, -0.09, -0.13, -0.06,
            -0.11, -0.18, -0.05, -0.245, -0.08, -0.12, -0.04, -0.1, -0.07, -0.14]
AREA3_C0 = [0.05, 0.09, 0.02, 0.07, 0.11, 0.15, 0.03, 0.08, 0.0, 0.06,
            0.1, 0.04, 0.08, -0.01, 0.06, 0.12, 0.03, 0.07, 0.05, 0.1,
            0.01, 0.06, 0.09, 0.03, 0.13, 0.05, 0.08, 0.0, 0.06, 0.1,
            0.04, 0.07, 0.12, 0.02, 0.06, 0.09, 0.04, 0.11, 0.01, 0.07,
            0.05, 0.1, -0.02, 0.06, 0.08, 0.03, 0.12, 0.05, 0.09, 0.02,
            0.07, 0.11, 0.04, 0.06, 0.0, 0.09, 0.05, 0.13, 0.03, 0.07,
            0.1, 0.04, 0.08, 0.01, 0.06, 0.11, 0.05, 0.08, 0.02, 0.1,
            0.06, 0.03, 0.09, 0.14, 0.05, 0.07, 0.01, 0.1, 0.04, 0.08,
            0.02, 0.06, 0.11, 0.04, 0.09, 0.0, 0.07, 0.12, 0.05, 0.08,
            0.03, 0.1, 0.06, 0.01, 0.08, 0.13, 0.04, 0.07, 0.1, 0.03,
            0.06, 0.09, 0.02, 0.07, 0.11, 0.05, 0.08, -0.01, 0.06, 0.1,
            0.04, 0.12, 0.03, 0.07, 0.09, 0.02, 0.06, 0.11, 0.05, 0.08,
            0.01, 0.07, 0.1, 0.04, 0.14, 0.06, 0.03, 0.09, 0.05, 0.11,
            0.02, 0.07, 0.1, 0.04, 0.08, 0.0, 0.06, 0.12, 0.05, 0.09,
            0.03, 0.07, 0.1, 0.02, 0.08, 0.05, 0.11, 0.04, 0.07, 0.06]
AREA3_C1 = [0.03, 0.08, 0.12, 0.02, 0.07, 0.1, 0.04, 0.09, -0.01, 0.06,
            0.11, 0.05, 0.08, 0.02, 0.13, 0.06, 0.03, 0.09, 0.05, 0.1,
            0.0, 0.07, 0.11, 0.04, 0.08, 0.02, 0.06, 0.12, 0.05, 0.09,
            0.03, 0.07, 0.14, 0.05, 0.08, 0.01, 0.06, 0.1, 0.04, 0.08,
            0.02, 0.11, 0.06, 0.09, 0.03, 0.07, 0.12, 0.04, 0.08, 0.0,
            0.06, 0.1, 0.05, 0.13, 0.03, 0.07, 0.09, 0.02, 0.06, 0.11,
            0.04, 0.08, 0.01, 0.07, 0.1, 0.05, 0.09, 0.03, 0.12, 0.06,
            0.02, 0.08, 0.11, 0.04, 0.07, 0.0, 0.06, 0.1, 0.05, 0.09,
            0.03, 0.13, 0.06, 0.08, 0.02, 0.07, 0.11, 0.04, 0.09, 0.05,
            0.01, 0.08, 0.12, 0.05, 0.07, 0.03, 0.1, 0.06, 0.09, 0.02,
            0.07, 0.11, 0.04, 0.08, 0.0, 0.06, 0.1, 0.05, 0.13, 0.03,
            0.08, 0.06, 0.1, 0.02, 0.07, 0.11, 0.04, 0.09, 0.05, 0.12,
            0.03, 0.07, 0.1, 0.01, 0.08, 0.06, 0.11, 0.04, 0.09, 0.02,
            0.07, 0.12, 0.05, 0.08, 0.03, 0.1, 0.06, 0.09, 0.01, 0.07,
            0.11, 0.04, 0.08, 0.06, 0.1, 0.03, 0.07, 0.09, 0.05, 0.08]
AREA4_C0 = [0.35, 0.42, 0.29, 0.38, 0.46, 0.31, 0.37, 0.25, 0.4, 0.33,
            0.44, 0.28, 0.36, 0.48, 0.3, 0.55, 0.34, 0.27, 0.41, 0.35,
            0.22, 0.39, 0.32, 0.45, 0.29, 0.36, 0.42, 0.26, 0.38, 0.33,
            0.47, 0.3, 0.4, 0.21, 0.35, 0.43, 0.31, 0.37, 0.28, 0.46,
            0.33, 0.39, 0.24, 0.36, 0.44, 0.3, 0.38, 0.5, 0.32, 0.27,
            0.41, 0.35, 0.2, 0.37, 0.45, 0.29, 0.34, 0.42, 0.26, 0.39,
            0.32, 0.48, 0.3, 0.36, 0.23, 0.4, 0.34, 0.44, 0.28, 0.37,
            0.31, 0.43, 0.35, 0.25, 0.39, 0.46, 0.3, 0.36, 0.41, 0.27,
            0.34, 0.38, 0.12, 0.33, 0.44, 0.29, 0.37, 0.49, 0.31, 0.4,
            0.26, 0.35, 0.42, 0.3, 0.38, 0.22, 0.36, 0.45, 0.32, 0.39,
            0.28, 0.41, 0.34, 0.47, 0.3, 0.13, 0.36, 0.43, 0.29, 0.38,
            0.33, 0.45, 0.27, 0.37, 0.4, 0.31, 0.48, 0.35, 0.24, 0.39,
            0.33, 0.42, 0.29, 0.36, 0.51, 0.3, 0.38, 0.26, 0.41, 0.34,
            0.46, 0.31, 0.37, 0.22, 0.4, 0.35, 0.57, 0.32, 0.39, 0.27,
            0.44, 0.34, 0.29, 0.4, 0.36, 0.48, 0.3, 0.38, 0.33, 0.42]
AREA4_C1 = [0.32, 0.4, 0.27, 0.36, 0.47, 0.3, 0.39, 0.34, 0.24, 0.41,
            0.33, 0.45, 0.29, 0.37, 0.5, 0.31, 0.38, 0.26, 0.43, 0.35,
            0.3, 0.42, 0.28, 0.36, 0.46, 0.33, 0.39, 0.22, 0.37, 0.44,
            0.3, 0.36, 0.41, 0.27, 0.49, 0.34, 0.38, 0.29, 0.4, 0.33,
            0.45, 0.31, 0.37, 0.25, 0.42, 0.35, 0.3, 0.47, 0.33, 0.39,
            0.28, 0.36, 0.13, 0.34, 0.43, 0.3, 0.38, 0.46, 0.32, 0.4,
            0.27, 0.37, 0.44, 0.31, 0.36, 0.29, 0.56, 0.35, 0.41, 0.28,
            0.38, 0.33, 0.45, 0.3, 0.36, 0.24, 0.4, 0.34, 0.48, 0.31,
            0.37, 0.27, 0.42, 0.35, 0.3, 0.44, 0.33, 0.39, 0.26, 0.41,
            0.35, 0.55, 0.31, 0.38, 0.28, 0.43, 0.34, 0.4, 0.23, 0.37,
            0.45, 0.32, 0.39, 0.29, 0.47, 0.33, 0.36, 0.42, 0.13, 0.35,
            0.4, 0.3, 0.44, 0.34, 0.27, 0.38, 0.46, 0.32, 0.37, 0.29,
            0.41, 0.35, 0.25, 0.39, 0.43, 0.58, 0.33, 0.37, 0.29, 0.42,
            0.31, 0.36, 0.45, 0.3, 0.39, 0.27, 0.44, 0.34, 0.38, 0.3,
            0.47, 0.33, 0.4, 0.26, 0.36, 0.43, 0.31, 0.38, 0.35, 0.41]

CLM_C0 = [0.765, 0.793, 0.752, 0.728, 0.770, 0.748, 0.776, 0.757, 0.741, 0.768,
          0.753, 0.779, 0.760, 0.745, 0.772, 0.756, 0.738, 0.766, 0.781, 0.751,
          0.769, 0.744, 0.763, 0.778, 0.755, 0.739, 0.767, 0.752, 0.785, 0.760,
          0.746, 0.771, 0.758, 0.742, 0.774, 0.761, 0.733, 0.768, 0.754, 0.776,
          0.749, 0.765, 0.780, 0.757, 0.743, 0.770, 0.752, 0.764, 0.739, 0.772,
          0.758, 0.746, 0.776, 0.762, 0.750, 0.769, 0.783, 0.755, 0.741, 0.766,
          0.752, 0.778, 0.760, 0.744, 0.771, 0.756, 0.765, 0.748, 0.774, 0.759,
          0.740, 0.767, 0.755, 0.779, 0.762, 0.746, 0.770, 0.753, 0.763, 0.738,
          0.768, 0.757, 0.775, 0.749, 0.764, 0.785, 0.758, 0.744, 0.771, 0.760,
          0.751, 0.777, 0.763, 0.742, 0.769, 0.755, 0.772, 0.748, 0.766, 0.780,
          0.756, 0.743, 0.768, 0.761, 0.749, 0.774, 0.757, 0.765, 0.740, 0.730,
          0.762, 0.778, 0.752, 0.786, 0.798, 0.760, 0.745, 0.770, 0.755, 0.767,
          0.748, 0.773, 0.759, 0.741, 0.766, 0.753, 0.779, 0.761, 0.746, 0.770,
          0.757, 0.742, 0.768, 0.776, 0.750, 0.764, 0.739, 0.771, 0.758, 0.783,
          0.753, 0.767, 0.745, 0.772, 0.761, 0.749, 0.777, 0.756, 0.764, 0.738,
          0.769, 0.752, 0.729, 0.760, 0.775, 0.747, 0.766, 0.755, 0.781, 0.762,
          0.744, 0.770, 0.757, 0.768, 0.751, 0.779, 0.760, 0.742, 0.773, 0.755,
          0.765, 0.748, 0.776, 0.759, 0.791, 0.753, 0.767, 0.741, 0.772, 0.758,
          0.750, 0.774, 0.762, 0.745, 0.769, 0.756, 0.782, 0.760, 0.747, 0.771,
          0.754, 0.766, 0.740, 0.773, 0.759, 0.751, 0.776, 0.763, 0.748, 0.770,
          0.757, 0.784, 0.761, 0.745, 0.768, 0.752, 0.775, 0.800, 0.760, 0.743,
          0.771, 0.755, 0.766, 0.749, 0.779, 0.758, 0.742, 0.769, 0.753, 0.725,
          0.795, 0.760, 0.774, 0.748, 0.765, 0.756, 0.781, 0.751, 0.768, 0.742,
          0.770, 0.759, 0.777, 0.746, 0.763, 0.754, 0.788, 0.761, 0.744, 0.772,
          0.757, 0.749, 0.768, 0.779, 0.752, 0.741, 0.766, 0.758, 0.774, 0.760,
          0.746, 0.769, 0.755, 0.762, 0.748, 0.773, 0.759, 0.724, 0.764, 0.752,
          0.777, 0.756, 0.743, 0.771, 0.760, 0.785, 0.753, 0.767, 0.741, 0.770,
          0.758, 0.775, 0.750, 0.764, 0.787, 0.757, 0.746, 0.769, 0.755, 0.781,
          0.761, 0.742, 0.772, 0.753, 0.766, 0.748, 0.778, 0.759, 0.744, 0.770,
          0.754, 0.768, 0.739, 0.763, 0.775, 0.750, 0.762, 0.742, 0.769, 0.756]
CLM_C1 = [0.790, 0.752, 0.771, 0.744, 0.763, 0.779, 0.750, 0.768, 0.757, 0.741,
          0.775, 0.760, 0.746, 0.770, 0.782, 0.753, 0.766, 0.748, 0.730, 0.764,
          0.778, 0.755, 0.742, 0.769, 0.759, 0.786, 0.751, 0.767, 0.744, 0.772,
          0.795, 0.758, 0.740, 0.773, 0.761, 0.749, 0.777, 0.756, 0.766, 0.743,
          0.770, 0.754, 0.781, 0.762, 0.747, 0.768, 0.752, 0.775, 0.760, 0.739,
          0.765, 0.779, 0.750, 0.771, 0.757, 0.744, 0.769, 0.784, 0.755, 0.763,
          0.742, 0.774, 0.759, 0.748, 0.767, 0.781, 0.753, 0.762, 0.738, 0.770,
          0.756, 0.776, 0.745, 0.764, 0.789, 0.752, 0.768, 0.741, 0.772, 0.758,
          0.747, 0.766, 0.780, 0.755, 0.769, 0.743, 0.761, 0.777, 0.750, 0.764,
          0.739, 0.771, 0.757, 0.783, 0.762, 0.746, 0.768, 0.753, 0.775, 0.760,
          0.744, 0.767, 0.756, 0.779, 0.749, 0.770, 0.758, 0.741, 0.773, 0.761,
          0.752, 0.728, 0.765, 0.787, 0.756, 0.743, 0.770, 0.759, 0.779, 0.748,
          0.766, 0.754, 0.775, 0.740, 0.762, 0.781, 0.751, 0.769, 0.745, 0.773,
          0.758, 0.764, 0.749, 0.785, 0.760, 0.747, 0.771, 0.755, 0.805, 0.768,
          0.742, 0.763, 0.776, 0.752, 0.767, 0.738, 0.770, 0.757, 0.782, 0.748,
          0.765, 0.723, 0.759, 0.777, 0.744, 0.771, 0.756, 0.789, 0.750, 0.766,
          0.741, 0.773, 0.760, 0.747, 0.785, 0.758, 0.813, 0.762, 0.745, 0.770,
          0.752, 0.779, 0.757, 0.740, 0.768, 0.755, 0.782, 0.761, 0.746, 0.773,
          0.759, 0.744, 0.770, 0.753, 0.776, 0.742, 0.725, 0.765, 0.751, 0.778,
          0.760, 0.747, 0.769, 0.783, 0.755, 0.740, 0.772, 0.758, 0.765, 0.749,
          0.776, 0.752, 0.767, 0.743, 0.763, 0.787, 0.756, 0.770, 0.745, 0.761,
          0.774, 0.750, 0.768, 0.757, 0.741, 0.779, 0.762, 0.748, 0.771, 0.754,
          0.733, 0.766, 0.781, 0.758, 0.745, 0.772, 0.760, 0.751, 0.776, 0.743,
          0.769, 0.756, 0.791, 0.762, 0.738, 0.773, 0.753, 0.766, 0.748, 0.780,
          0.759, 0.744, 0.771, 0.757, 0.764, 0.742, 0.776, 0.752, 0.767, 0.760,
          0.746, 0.778, 0.755, 0.769, 0.741, 0.763, 0.784, 0.750, 0.772, 0.757,
          0.743, 0.766, 0.780, 0.754, 0.770, 0.747, 0.761, 0.791, 0.758, 0.745,
          0.769, 0.752, 0.775, 0.760, 0.739, 0.768, 0.754, 0.777, 0.744, 0.762,
          0.771, 0.756, 0.740, 0.765, 0.750, 0.779, 0.758, 0.726, 0.763, 0.748,
          0.774, 0.757, 0.768, 0.742, 0.765, 0.752, 0.778, 0.760, 0.746, 0.769]

N_DRAWS = 1000

# ---- tick labels
KDE_TICKS = [[7.50, 7.55, 7.60, 7.65, 7.70], [-0.4, -0.3, -0.2, -0.1, 0.0, 0.1],
             [0.05, 0.10, 0.15, 0.20, 0.25], [-0.2, 0.0, 0.2, 0.4, 0.6],
             [0.72, 0.74, 0.76, 0.78, 0.80]]
TRACE_XTICKS = [0, 200, 400, 600, 800]
TRACE_YTICKS = [[7.50, 7.55, 7.60, 7.65, 7.70], [-0.4, -0.2, 0.0],
                [0.05, 0.10, 0.15, 0.20, 0.25], [-0.2, 0.0, 0.2, 0.4, 0.6],
                [0.72, 0.74, 0.76, 0.78, 0.80]]
TICK_FMT = [".2f", ".1f", ".2f", ".1f", ".2f"]

# ======================= STYLE / LAYOUT =======================
PALETTE = ["#2a2eec", "#fa7c17", "#328c06", "#c10c90", "#933708"]
W, H = 1211, 1011
COL_PX = [(22, 582), (642, 1202.5)]
ROW_PX = [(30, 179), (230.5, 380), (431, 580.5), (631.5, 781), (832.5, 981.5)]
TEXT = "#262626"
FONT = "DejaVu Sans"

KDE_PANELS = [
    [(0, INT_KDE_XS, INT_KDE_YS, INT_KDE_XD, INT_KDE_YD)],
    [(0, AGE0_KDE_XS, AGE0_KDE_YS, AGE0_KDE_XD, AGE0_KDE_YD),
     (1, AGE1_KDE_XS, AGE1_KDE_YS, AGE1_KDE_XD, AGE1_KDE_YD),
     (2, AGE2_KDE_XS, AGE2_KDE_YS, AGE2_KDE_XD, AGE2_KDE_YD),
     (3, AGE3_KDE_XS, AGE3_KDE_YS, AGE3_KDE_XD, AGE3_KDE_YD),
     (4, AGE4_KDE_XS, AGE4_KDE_YS, AGE4_KDE_XD, AGE4_KDE_YD)],
    [(0, GEN_KDE_XS, GEN_KDE_YS, GEN_KDE_XD, GEN_KDE_YD)],
    [(0, AREA0_KDE_XS, AREA0_KDE_YS, AREA0_KDE_XD, AREA0_KDE_YD),
     (1, AREA1_KDE_XS, AREA1_KDE_YS, AREA1_KDE_XD, AREA1_KDE_YD),
     (2, AREA2_KDE_XS, AREA2_KDE_YS, AREA2_KDE_XD, AREA2_KDE_YD),
     (3, AREA3_KDE_XS, AREA3_KDE_YS, AREA3_KDE_XD, AREA3_KDE_YD),
     (4, AREA4_KDE_XS, AREA4_KDE_YS, AREA4_KDE_XD, AREA4_KDE_YD)],
    [(0, CLM_KDE_XS, CLM_KDE_YS, CLM_KDE_XD, CLM_KDE_YD)],
]
TRACE_PANELS = [
    [(0, INT_C0, INT_C1)],
    [(0, AGE0_C0, AGE0_C1), (1, AGE1_C0, AGE1_C1), (2, AGE2_C0, AGE2_C1),
     (3, AGE3_C0, AGE3_C1), (4, AGE4_C0, AGE4_C1)],
    [(0, GEN_C0, GEN_C1)],
    [(0, AREA0_C0, AREA0_C1), (1, AREA1_C0, AREA1_C1), (2, AREA2_C0, AREA2_C1),
     (3, AREA3_C0, AREA3_C1), (4, AREA4_C0, AREA4_C1)],
    [(0, CLM_C0, CLM_C1)],
]


def padded(vals, frac=0.05):
    lo, hi = float(np.min(vals)), float(np.max(vals))
    s = hi - lo
    return [lo - frac * s, hi + frac * s]


def ax_name(i):
    return "" if i == 1 else str(i)


fig = go.Figure()
layout = dict(
    width=W, height=H, margin=dict(l=0, r=0, t=0, b=0, pad=0, autoexpand=False),
    paper_bgcolor="white", plot_bgcolor="#eeeeee",
    font=dict(family=FONT, size=13, color=TEXT), showlegend=False,
)
annotations = []

for r in range(5):
    y0px, y1px = ROW_PX[r]
    ydom = [1 - y1px / H, 1 - y0px / H]
    for c in range(2):
        i = r * 2 + c + 1
        n = ax_name(i)
        x0px, x1px = COL_PX[c]
        xdom = [x0px / W, x1px / W]
        if c == 0:
            allx, ally = [], []
            for ci, xs, ys, xd, yd in KDE_PANELS[r]:
                fig.add_trace(go.Scatter(x=xs, y=ys, mode="lines", xaxis="x" + n, yaxis="y" + n,
                                         line=dict(color=PALETTE[ci], width=1.5, shape="spline", smoothing=0.6),
                                         hoverinfo="skip"))
                fig.add_trace(go.Scatter(x=xd, y=yd, mode="lines", xaxis="x" + n, yaxis="y" + n,
                                         line=dict(color=PALETTE[ci], width=1.5, dash="1.5px,2.5px",
                                                   shape="spline", smoothing=0.6),
                                         hoverinfo="skip"))
                allx += xs + xd
                ally += ys + yd
            layout["xaxis" + n] = dict(domain=xdom, anchor="y" + n, range=padded(allx),
                                       tickvals=KDE_TICKS[r], tickformat=TICK_FMT[r], automargin=False,
                                       showgrid=True, gridcolor="white", gridwidth=1,
                                       zeroline=False, showline=False, ticks="", ticklabelstandoff=2,
                                       tickfont=dict(size=13, color=TEXT, family=FONT))
            layout["yaxis" + n] = dict(domain=ydom, anchor="x" + n, range=padded(ally), automargin=False,
                                       showticklabels=False, showgrid=False, zeroline=False,
                                       showline=False, ticks="")
        else:
            ally = []
            for ci, c0, c1 in TRACE_PANELS[r]:
                for vals, dash in ((c0, "solid"), (c1, "1.5px,2px")):
                    draws = np.linspace(0, N_DRAWS - 1, len(vals))
                    fig.add_trace(go.Scatter(x=draws, y=vals, mode="lines", xaxis="x" + n, yaxis="y" + n,
                                             line=dict(color=PALETTE[ci], width=1, dash=dash),
                                             opacity=0.38, hoverinfo="skip"))
                    ally += vals
            layout["xaxis" + n] = dict(domain=xdom, anchor="y" + n, range=[0, N_DRAWS - 1], automargin=False,
                                       tickvals=TRACE_XTICKS, showgrid=True, gridcolor="white",
                                       gridwidth=1, zeroline=False, showline=False, ticks="",
                                       ticklabelstandoff=3,
                                       tickfont=dict(size=13, color=TEXT, family=FONT))
            layout["yaxis" + n] = dict(domain=ydom, anchor="x" + n, range=padded(ally), automargin=False,
                                       tickvals=TRACE_YTICKS[r], tickformat=TICK_FMT[r],
                                       showgrid=True, gridcolor="white", gridwidth=1,
                                       zeroline=False, showline=False, ticks="",
                                       tickfont=dict(size=13, color=TEXT, family=FONT))
        annotations.append(dict(text=TITLES[r], x=(xdom[0] + xdom[1]) / 2, y=ydom[1],
                                xref="paper", yref="paper", xanchor="center", yanchor="bottom",
                                yshift=3, showarrow=False,
                                font=dict(size=15.5, color=TEXT, family=FONT)))

layout["annotations"] = annotations
fig.update_layout(**layout)
fig.write_html("out.html")
